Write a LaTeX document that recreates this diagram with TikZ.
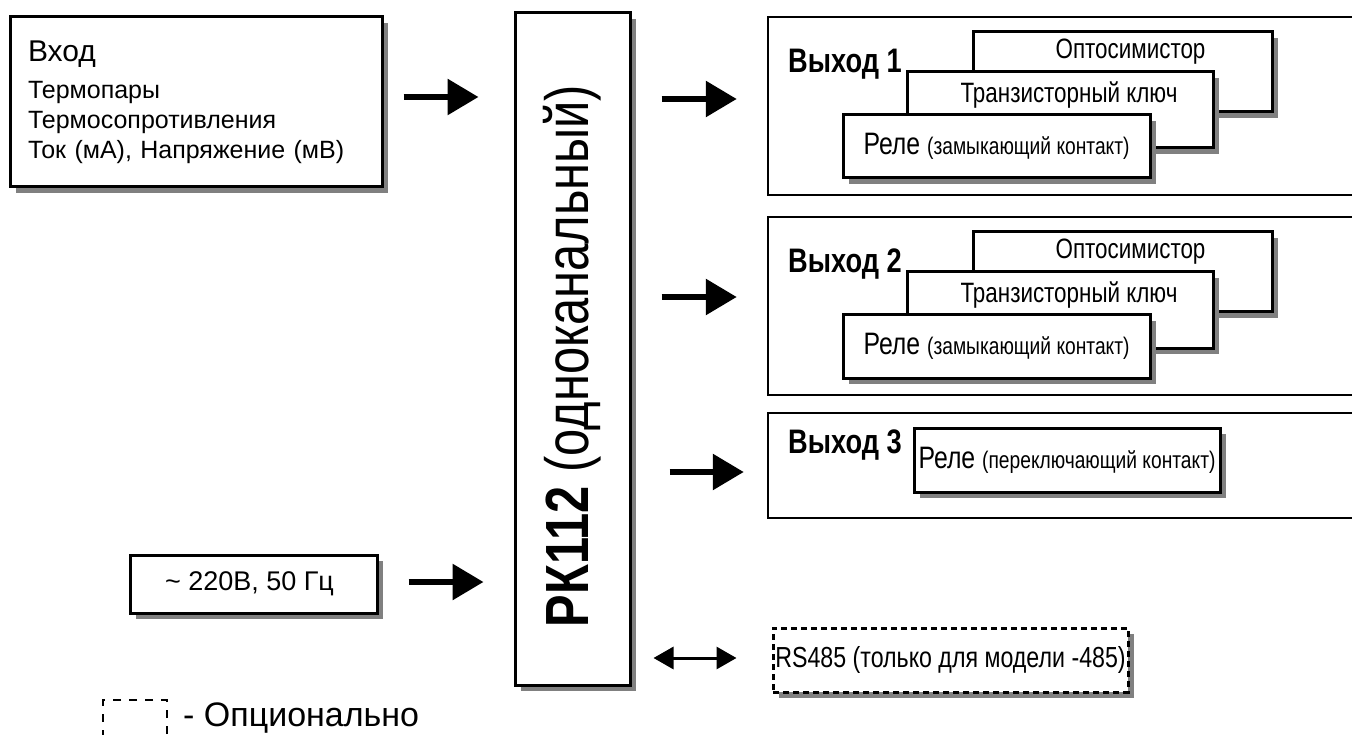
\documentclass[tikz,border=0pt]{standalone}
\usepackage{fontspec}
\setmainfont{Liberation Sans}
\newfontfamily\narrowfont{Liberation Sans}[FakeStretch=0.8]
\usetikzlibrary{arrows.meta}
\usetikzlibrary{shadows}

\begin{document}
\begin{tikzpicture}
[x=1pt,y=-1pt,
 shbox/.style={draw,fill=white,inner sep=0pt,line width=3pt,
   drop shadow={shadow xshift=6pt,shadow yshift=-6pt,fill=black!50,opacity=1}},
 outbox/.style={draw,line width=2.5pt,inner sep=0pt},
 fat/.style={line width=6pt,-{Triangle[length=31pt,width=35pt]}},
 bus/.style={line width=3pt,{Triangle[length=20pt,width=22pt]}-{Triangle[length=20pt,width=22pt]}},
 outtext/.style={inner sep=0pt,font=\narrowfont\fontsize{28}{32}\selectfont},
 outlabel/.style={inner sep=0pt,anchor=base west,font=\narrowfont\bfseries\fontsize{34}{38}\selectfont}]

\useasboundingbox (0,0) rectangle (1352,735);
\clip (0,0) rectangle (1352,735);

\node[shbox,minimum width=372pt,minimum height=170pt,align=left,text width=336pt,
  font=\fontsize{25}{30}\selectfont] (in) at (196,102)
  {{\fontsize{30}{30}\selectfont Вход}\\[7pt]Термопары\\Термосопротивления\\Ток (мА), Напряжение (мВ)}; %input
\node[shbox,minimum width=247pt,minimum height=58pt,font=\fontsize{27}{30}\selectfont] (pow) at (253.5,584)
  {\textasciitilde{} 220В, 50 Гц\hspace*{8pt}}; %supply
\node[shbox,minimum width=115pt,minimum height=672pt] (pk) at (572.5,349)
  {\rotatebox{90}{\narrowfont\fontsize{61}{64}\selectfont\textbf{РК112} (одноканальный)\hspace*{14pt}}}; %device

% output 1
\node[outbox,minimum width=612pt,minimum height=178pt] (out1) at (1074,106) {};
\node[outlabel] (lbl1) at (788,73) {Выход 1};
\node[shbox,minimum width=299pt,minimum height=80pt] (opto1) at (1122.5,72) {};
\node[outtext] (topto1) at ([xshift=8pt,yshift=20pt]opto1.center) {Оптосимистор};
\node[shbox,minimum width=306pt,minimum height=76pt] (trans1) at (1060,110) {};
\node[outtext] (ttrans1) at ([xshift=9pt,yshift=15pt]trans1.center) {Транзисторный ключ};
\node[shbox,minimum width=307pt,minimum height=63pt,font=\narrowfont] (rele1) at (996.5,146.5)
  {{\fontsize{31}{34}\selectfont Реле\ }{\fontsize{24}{28}\selectfont (замыкающий контакт)}};

% output 2
\node[outbox,minimum width=612pt,minimum height=178pt] (out2) at (1074,306) {};
\node[outlabel] (lbl2) at (788,273) {Выход 2};
\node[shbox,minimum width=299pt,minimum height=80pt] (opto2) at (1122.5,272) {};
\node[outtext] (topto2) at ([xshift=8pt,yshift=20pt]opto2.center) {Оптосимистор};
\node[shbox,minimum width=306pt,minimum height=76pt] (trans2) at (1060,310) {};
\node[outtext] (ttrans2) at ([xshift=9pt,yshift=15pt]trans2.center) {Транзисторный ключ};
\node[shbox,minimum width=307pt,minimum height=63pt,font=\narrowfont] (rele2) at (996.5,346.5)
  {{\fontsize{31}{34}\selectfont Реле\ }{\fontsize{24}{28}\selectfont (замыкающий контакт)}};

% output 3
\node[outbox,minimum width=612pt,minimum height=105pt] (out3) at (1074,465.5) {};
\node[outlabel] (lbl3) at (788,453) {Выход 3};
\node[shbox,minimum width=306pt,minimum height=64pt,font=\narrowfont] (rele3) at (1067,460)
  {{\fontsize{31}{34}\selectfont Реле\ }{\fontsize{24}{28}\selectfont (переключающий контакт)}};

\node[shbox,dash pattern=on 6pt off 4pt,minimum width=355pt,minimum height=64pt,
  font=\narrowfont\fontsize{29}{34}\selectfont] (rs) at (950.5,660)
  {RS485 (только для модели -485)}; %interface

% legend
\node[draw,line width=2.5pt,dash pattern=on 8pt off 8pt,minimum width=64pt,minimum height=50pt,inner sep=0pt] (opt) at (135,725) {};
\node[anchor=base west,inner sep=0pt,font=\fontsize{34}{40}\selectfont] (topt) at (183,726) {- Опционально};

\draw[fat,shorten <=20pt,shorten >=35pt] ([yshift=5pt]in.east) -- ([yshift=5pt]in.east -| pk.west);
\draw[fat,shorten <=30pt,shorten >=30pt] ([yshift=2pt]pow.east) -- ([yshift=2pt]pow.east -| pk.west);
\draw[fat,shorten <=30pt,shorten >=30pt] ([yshift=7pt]out1.west -| pk.east) -- ([yshift=7pt]out1.west);
\draw[fat,shorten <=30pt,shorten >=30pt] ([yshift=9pt]out2.west -| pk.east) -- ([yshift=9pt]out2.west);
\draw[fat,shorten <=38pt,shorten >=23pt] ([yshift=-6.5pt]out3.west -| pk.east) -- ([yshift=-6.5pt]out3.west);
\draw[bus,shorten <=22pt,shorten >=35pt] ([yshift=2pt]rs.west -| pk.east) -- ([yshift=2pt]rs.west);
\end{tikzpicture}
\end{document}
